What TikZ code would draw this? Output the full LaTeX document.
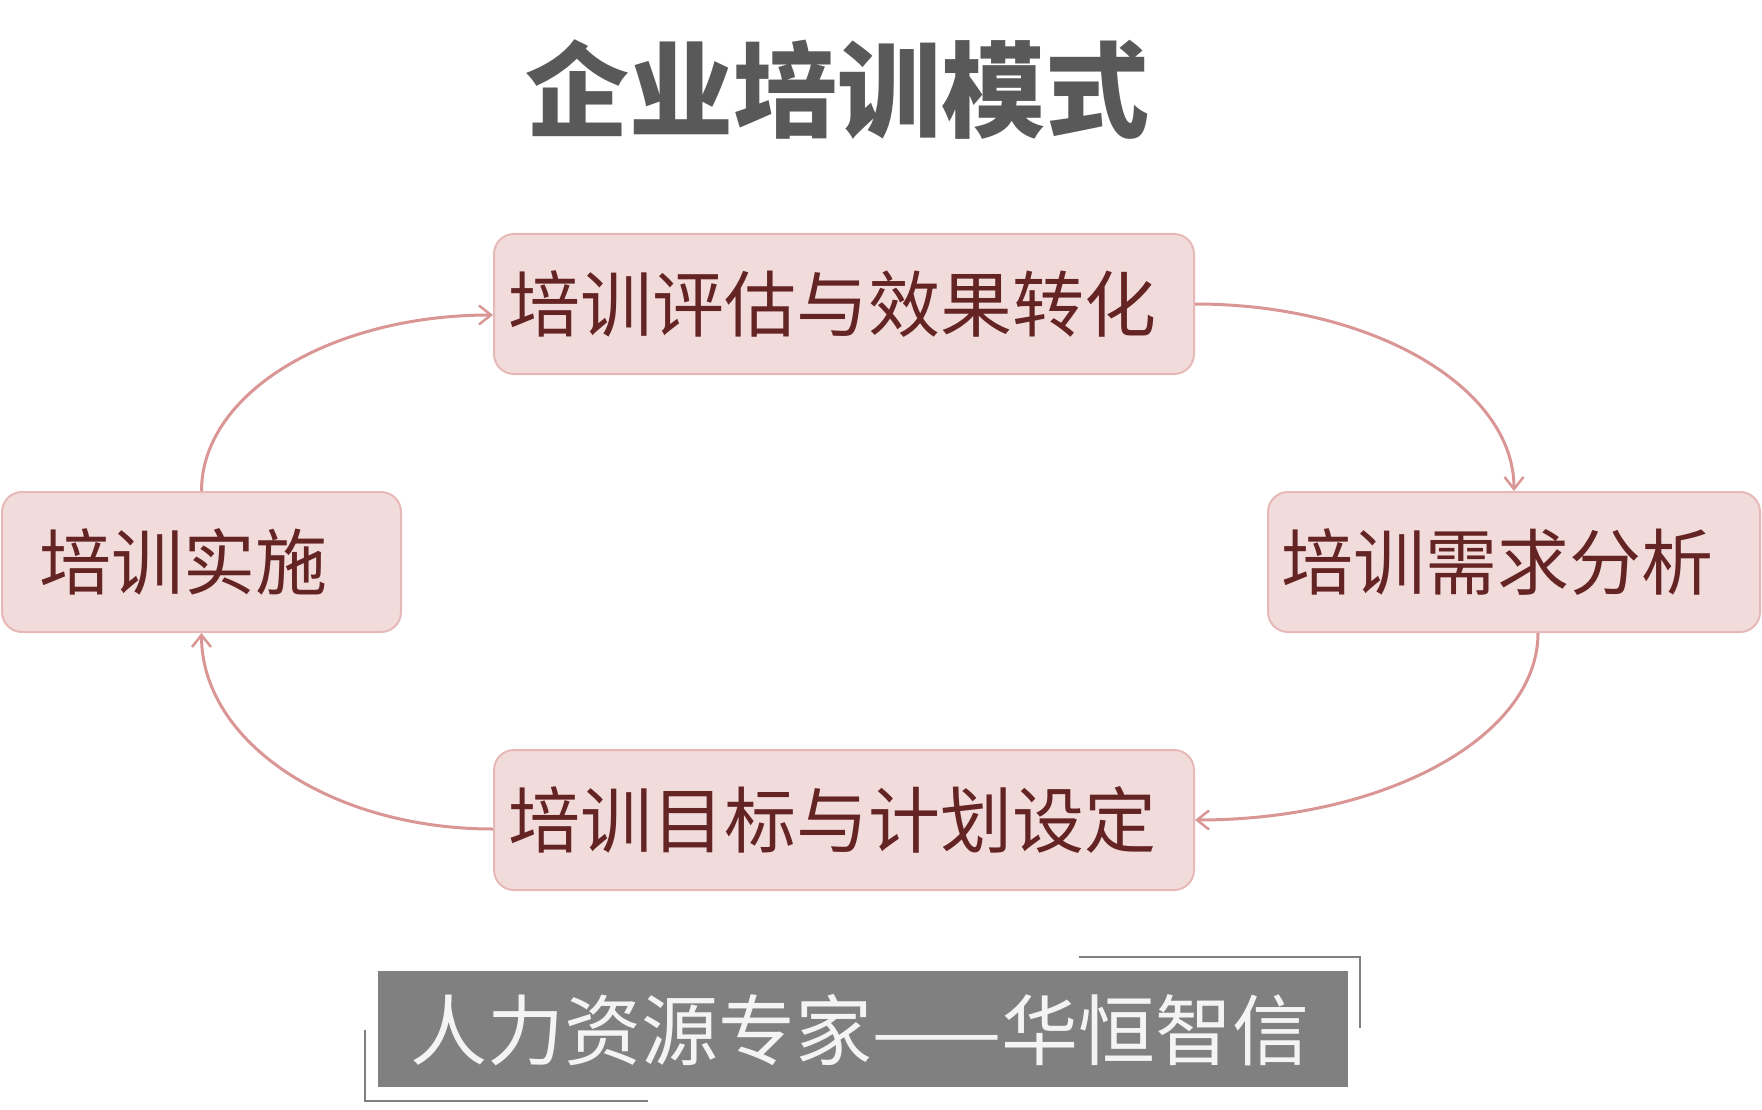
\documentclass[tikz,border=0pt]{standalone}
\usepackage{fontspec}
\newfontfamily\cjk{Noto Sans CJK SC}
\usetikzlibrary{arrows.meta,calc}
\definecolor{boxfill}{HTML}{F2DCDB}
\definecolor{boxline}{HTML}{E6B9B8}
\definecolor{arrowcol}{HTML}{D99694}
\definecolor{boxtext}{HTML}{632423}
\definecolor{titlecol}{HTML}{595959}
\definecolor{bannergray}{HTML}{808080}
\definecolor{bannertext}{HTML}{F4F4F4}
\tikzset{
  stagebox/.style={draw=boxline, fill=boxfill, line width=2pt, rounded corners=20pt,
    minimum height=140pt, inner ysep=0pt, align=left, text=boxtext,
    font=\cjk\fontsize{72}{72}\selectfont},
  conn/.style={draw=arrowcol, line width=3pt,
    -{Straight Barb[length=12pt,width=19pt,line width=2.5pt]}},
  bracketline/.style={draw=bannergray, line width=2pt}
}
\begin{document}
\begin{tikzpicture}[x=1pt,y=-1pt]
\useasboundingbox (0,0) rectangle (1762,1110);
% title
\node[text=titlecol, font=\cjk\bfseries\fontsize{104}{104}\selectfont, inner sep=0pt] (title) at (837,90) {企业培训模式};
% stage boxes
\node[stagebox, minimum width=700pt, text width=672pt, inner xsep=14pt] (eval) at (844,304) {培训评估与效果转化};
\node[stagebox, minimum width=492pt, text width=466pt, inner xsep=13pt] (need) at (1514,562) {培训需求分析};
\node[stagebox, minimum width=700pt, text width=672pt, inner xsep=14pt] (goal) at (844,820) {培训目标与计划设定};
\node[stagebox, minimum width=399pt, text width=325pt, inner xsep=37pt] (impl) at (201.5,562) {培训实施};
% connectors
\draw[conn] (impl.north) .. controls +(0,-98) and +(-162,0) .. ($(eval.west)+(0,11)$);
\draw[conn] (eval.east) .. controls +(177,0) and +(0,-104) .. (need.north);
\draw[conn] ($(need.south)+(24,0)$) .. controls +(0,104) and +(190,0) .. (goal.east);
\draw[conn] ($(goal.west)+(0,9)$) .. controls +(-162,0) and +(0,109) .. (impl.south);
% banner
\fill[bannergray] (378,971) rectangle (1348,1087);
\draw[bracketline] (1079,957) -- (1360,957) -- (1360,1028);
\draw[bracketline] (365,1030) -- (365,1101) -- (648,1101);
\node[text=bannertext, font=\cjk\fontsize{77}{77}\selectfont, inner sep=0pt] (banner) at (860,1030) {人力资源专家——华恒智信};
\end{tikzpicture}
\end{document}
